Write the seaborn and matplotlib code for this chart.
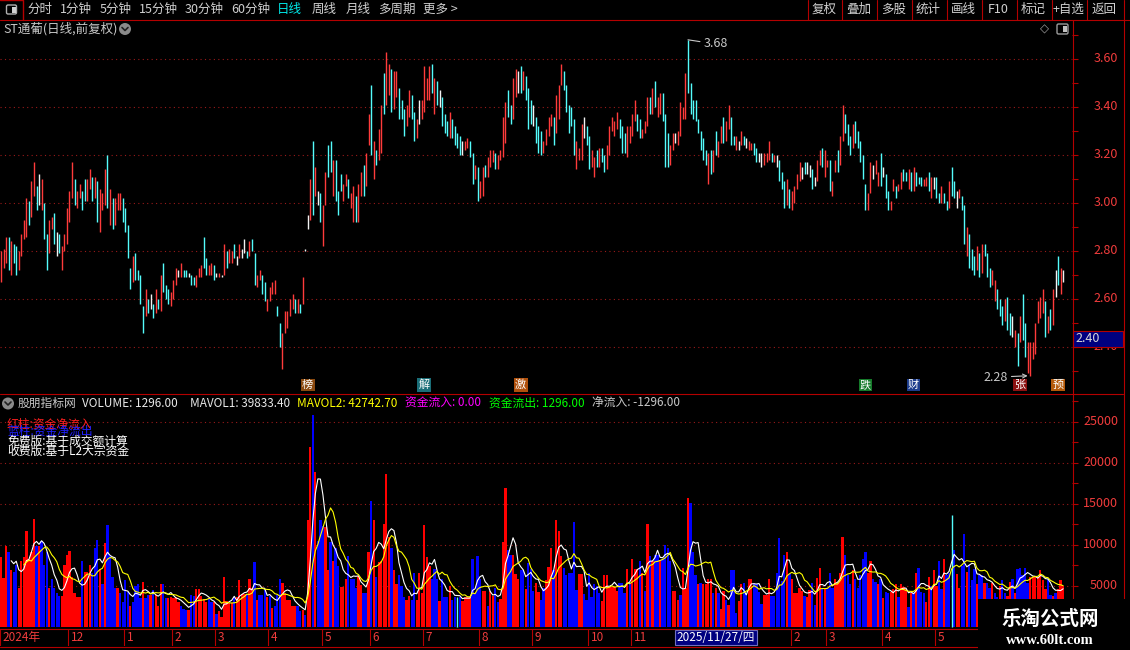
import numpy as np
import pandas as pd
import matplotlib
matplotlib.use('Agg')
import matplotlib.pyplot as plt
import matplotlib.ticker as mticker
import matplotlib.transforms as mtransforms
from matplotlib.patches import Rectangle, Circle, FancyBboxPatch
from matplotlib.lines import Line2D
import seaborn as sns

# daily high / low, 前复权, in fen
hi = [280, 281, 286, 286, 284, 283, 282, 280, 287, 293,
      302, 301, 309, 317, 307, 312, 310, 300, 287, 293,
      294, 296, 288, 287, 282, 287, 298, 305, 317, 310,
      305, 308, 305, 310, 310, 314, 311, 311, 309, 306,
      304, 314, 320, 306, 302, 302, 304, 304, 302, 298,
      291, 273, 278, 279, 272, 270, 257, 264, 260, 262,
      258, 264, 260, 270, 275, 266, 264, 263, 268, 273,
      272, 275, 272, 272, 271, 270, 269, 270, 273, 274,
      286, 277, 274, 275, 274, 271, 271, 270, 283, 280,
      281, 280, 283, 278, 283, 281, 285, 280, 284, 285,
      279, 270, 272, 270, 267, 260, 265, 267, 268, 257,
      250, 246, 255, 255, 260, 262, 260, 260, 258, 269,
      281, 295, 310, 326, 315, 305, 304, 299, 313, 324,
      326, 318, 318, 305, 312, 308, 312, 310, 304, 307,
      303, 308, 313, 316, 321, 337, 349, 326, 322, 331,
      341, 354, 363, 358, 356, 355, 355, 348, 343, 339,
      341, 347, 345, 338, 335, 343, 343, 357, 352, 357,
      358, 352, 351, 347, 344, 337, 334, 338, 335, 332,
      329, 328, 326, 326, 327, 326, 321, 316, 315, 309,
      315, 316, 319, 322, 322, 321, 320, 322, 336, 342,
      347, 341, 352, 356, 355, 357, 355, 353, 348, 343,
      341, 336, 332, 330, 326, 331, 336, 337, 336, 345,
      349, 358, 355, 349, 341, 340, 335, 326, 323, 333,
      336, 332, 328, 322, 319, 322, 323, 323, 320, 324,
      332, 336, 334, 338, 335, 332, 329, 332, 332, 337,
      343, 337, 335, 331, 334, 344, 344, 348, 351, 344,
      346, 346, 337, 329, 324, 329, 329, 330, 342, 340,
      354, 368, 350, 343, 343, 335, 330, 327, 322, 321,
      322, 322, 330, 326, 332, 336, 334, 341, 336, 328,
      328, 326, 330, 328, 327, 326, 325, 325, 323, 321,
      321, 321, 321, 326, 321, 320, 320, 318, 313, 309,
      310, 306, 305, 307, 312, 317, 315, 317, 317, 316,
      314, 311, 318, 322, 323, 322, 318, 318, 309, 318,
      322, 328, 341, 337, 333, 328, 333, 334, 330, 326,
      320, 308, 304, 317, 316, 318, 313, 321, 315, 312,
      305, 301, 310, 307, 308, 313, 314, 313, 314, 313,
      315, 313, 311, 311, 310, 311, 313, 311, 311, 311,
      304, 307, 304, 301, 309, 315, 309, 305, 306, 303,
      299, 290, 287, 281, 278, 282, 279, 283, 283, 279,
      273, 272, 268, 264, 260, 257, 260, 261, 254, 253,
      247, 246, 253, 262, 250, 242, 242, 242, 250, 259,
      261, 264, 259, 253, 256, 264, 272, 278, 273, 272]

lo = [267, 273, 275, 272, 270, 275, 270, 272, 278, 285,
      286, 291, 294, 303, 297, 299, 297, 285, 272, 279,
      289, 283, 278, 279, 272, 280, 283, 292, 302, 299,
      298, 302, 297, 301, 301, 306, 301, 302, 292, 288,
      297, 299, 298, 291, 289, 291, 297, 297, 292, 288,
      277, 264, 267, 268, 268, 258, 246, 253, 254, 256,
      252, 254, 256, 255, 263, 260, 258, 257, 260, 266,
      269, 269, 269, 269, 269, 266, 266, 265, 269, 269,
      273, 270, 270, 270, 268, 269, 269, 269, 270, 273,
      275, 275, 277, 274, 277, 277, 279, 277, 278, 280,
      266, 265, 268, 262, 259, 255, 259, 262, 262, 253,
      240, 231, 246, 248, 253, 256, 254, 254, 254, 258,
      280, 289, 293, 295, 303, 299, 292, 282, 299, 311,
      313, 303, 301, 295, 305, 301, 307, 302, 298, 292,
      292, 292, 303, 303, 307, 324, 320, 310, 316, 318,
      321, 337, 341, 345, 338, 339, 344, 335, 335, 328,
      332, 336, 335, 326, 327, 333, 335, 338, 343, 343,
      346, 337, 341, 340, 332, 329, 328, 327, 327, 324,
      323, 320, 320, 322, 323, 319, 308, 310, 301, 302,
      303, 311, 311, 315, 317, 314, 314, 318, 319, 325,
      336, 333, 335, 344, 346, 346, 347, 343, 331, 333,
      332, 325, 321, 320, 321, 324, 328, 332, 324, 329,
      335, 349, 347, 338, 329, 332, 320, 314, 318, 318,
      327, 324, 314, 315, 311, 315, 315, 317, 313, 314,
      320, 330, 328, 331, 327, 321, 321, 319, 325, 328,
      334, 330, 327, 327, 329, 332, 337, 337, 340, 336,
      337, 334, 315, 315, 316, 322, 325, 324, 328, 335,
      335, 346, 337, 335, 334, 329, 322, 318, 316, 308,
      312, 313, 320, 319, 325, 325, 326, 331, 324, 324,
      322, 322, 324, 324, 323, 322, 322, 320, 317, 317,
      315, 316, 317, 318, 317, 317, 315, 309, 306, 298,
      299, 298, 297, 300, 306, 309, 310, 312, 312, 311,
      306, 307, 309, 316, 315, 311, 315, 305, 303, 313,
      313, 316, 326, 329, 324, 320, 323, 325, 323, 317,
      310, 297, 297, 304, 310, 312, 307, 307, 311, 302,
      297, 297, 305, 302, 305, 306, 309, 309, 306, 305,
      305, 307, 308, 307, 307, 307, 305, 302, 306, 302,
      300, 300, 300, 297, 298, 303, 302, 298, 302, 297,
      283, 278, 273, 272, 270, 272, 269, 271, 278, 269,
      265, 266, 259, 256, 253, 249, 251, 247, 245, 244,
      240, 232, 242, 243, 236, 229, 228, 235, 237, 250,
      252, 254, 244, 246, 247, 249, 261, 266, 262, 267]

# u: close above open, d: below, f: flat
day_dir = ("uuududduuu" "uduudfuddu" "udfduuuuud" "uudduududu" "uududuuudd"
           "dduddddudf" "dududdduuu" "fuddfdduuu" "dduudfufud" "uudfuffdud"
           "duudduuuud" "duuuuududu" "ffudufduud" "duddduuduu" "duuduududu"
           "uduuduuddd" "uuddufuuuu" "dudfdddudd" "ddfuuddudu" "uduuuduuuu"
           "dduufduddd" "fddduuuudu" "uuddddduuu" "fdduududdu" "uuuuddduuu"
           "udduuududu" "uddduufuuu" "uddddddddu" "duduuduudd" "ufudfuuddf"
           "fuuudufddd" "uduuuufdff" "dfuuduuduu" "duuddduddd" "dduufuudfd"
           "duuduuddud" "uddduudufd" "dudduddfud" "dudddududd" "duuddduddf"
           "ududduuuuu" "uududufduf")

# daily volume (lots)
vol = [8500, 6000, 9900, 9100, 6900, 6700, 7500, 4700, 8000, 8500,
       11700, 8300, 9100, 13200, 9900, 9900, 10500, 7500, 9100, 4800,
       5800, 4700, 4200, 3800, 3800, 7500, 8800, 9300, 6100, 4200,
       3600, 3600, 8000, 6700, 6700, 7500, 6600, 9600, 10600, 7100,
       5200, 10300, 12400, 8700, 6100, 4700, 4700, 4200, 3000, 5700,
       4300, 2600, 3000, 5000, 5300, 3500, 5500, 3500, 3900, 3900,
       4500, 3900, 2600, 5200, 5200, 3500, 3500, 3600, 3500, 3600,
       3000, 2600, 2200, 2100, 2100, 3900, 3800, 4600, 4600, 3800,
       3400, 3000, 3400, 3000, 3000, 1600, 2000, 1200, 6100, 3200,
       2900, 2900, 3600, 3600, 5700, 4000, 4000, 4000, 5800, 4800,
       7900, 3300, 3900, 3900, 4600, 3600, 3800, 2300, 2600, 3900,
       5800, 5400, 4200, 3300, 3300, 2600, 2500, 2500, 1900, 2100,
       1500, 13100, 22000, 25800, 18900, 10500, 13000, 12300, 12200, 7000,
       10400, 8100, 9600, 7400, 4900, 4900, 5900, 8700, 5800, 5800,
       4700, 6200, 5100, 4200, 4200, 9100, 15400, 13100, 6100, 7900,
       8000, 12600, 18700, 11000, 9600, 6900, 5200, 6400, 5000, 3600,
       3300, 3800, 3300, 6600, 3300, 6600, 4200, 12400, 8500, 7400,
       5800, 7100, 5800, 3200, 5900, 3700, 3700, 5000, 3300, 3600,
       3600, 3600, 3200, 3600, 3600, 3600, 8300, 4200, 8700, 5900,
       4400, 4400, 2500, 4400, 3800, 4800, 3100, 3400, 10400, 17000,
       9400, 8800, 8800, 6500, 5800, 6900, 6900, 4600, 7800, 7100,
       4400, 5400, 4300, 3300, 4700, 5700, 7300, 9600, 7000, 13000,
       11700, 8700, 7200, 6300, 6600, 6600, 12800, 4500, 6500, 6500,
       4000, 3300, 6600, 3700, 5200, 5000, 4100, 3200, 6300, 6300,
       4900, 4900, 4900, 4400, 5400, 5400, 4100, 7100, 5400, 8300,
       7100, 7100, 8000, 6600, 4400, 12500, 8600, 8100, 8800, 8800,
       8200, 8300, 10000, 9600, 8100, 4400, 4400, 3300, 3900, 7200,
       4800, 15700, 15100, 9200, 6300, 5200, 5400, 5200, 5200, 5900,
       5900, 4100, 4700, 4200, 2200, 4400, 3300, 2700, 6900, 6900,
       1700, 3200, 5300, 5400, 4000, 5800, 5800, 5400, 5200, 4300,
       2800, 3900, 3900, 5900, 3800, 3800, 6600, 10800, 5600, 8800,
       9100, 6500, 5800, 4200, 4200, 4700, 4400, 3800, 3600, 4500,
       5400, 2700, 6000, 7200, 4600, 4600, 4700, 6600, 4700, 5900,
       5400, 6600, 11000, 8800, 6300, 5300, 6900, 5900, 4700, 6300,
       8300, 9200, 6600, 8000, 5800, 5500, 5200, 5800, 3500, 4300,
       4200, 4300, 4600, 5200, 3700, 5300, 4900, 4600, 2400, 4200,
       4200, 6600, 7200, 4300, 4200, 3100, 6100, 5000, 6900, 5000,
       8100, 4600, 8300, 6300, 6600, 13700, 9400, 6500, 4700, 7400,
       11400, 6700, 7600, 5700, 7100, 5300, 6400, 6300, 5400, 5400,
       4800, 5400, 4200, 3700, 5000, 5700, 4200, 3800, 5500, 5800,
       4200, 7100, 7200, 6300, 7200, 5400, 6100, 6100, 6100, 6100,
       7000, 5700, 4600, 5900, 3900, 3800, 4200, 4600, 5700, 5000]

# R: 红柱 net inflow, B: 蓝柱 net outflow, T: no net flow
flow = ("RRRBRBBRRR" "RRRRBRBBBR" "BBBBRRRRRR" "RRBRRRBBBR" "BRBBBBRBBB"
        "BRBBBBRBBR" "BRRRBBRRRR" "RBBBRBBRRR" "RRBBRBRRRR" "RRBRRRRBRR"
        "BRBBBRBRBB" "BRRRRRRBBR" "BRRBRBBBRR" "BRBBRRRBBB" "BRRBBRBRBR"
        "RRRRBRRBBB" "RRBBRRRRRR" "BBBRBBBRBB" "TBRRRRBBBB" "RRBRRBBRRR"
        "BBRRRBBRBB" "BRRBBRRRBR" "RRBBBBBBRR" "BBBBBBBRRR" "RRRRBBBRBR"
        "RRBRBRBRBB" "RBBBBRRRBR" "RRBBBRBRRR" "RBRBRRBRBB" "BRRBBRRBBB"
        "BRRRBBBBBB" "RBRRRRRBRR" "BBRRBRBBBR" "RRRBBBRBBB" "BBRRBBRBRB"
        "BRRRBRRRBR" "BRBBBRRBRR" "BBRBBTBRRB" "BRBBBRBBRB" "BRBBRBBRRB"
        "RBBBBBRRRR" "RRRBBRBRRR")

month_lbl = ['2024年', '12', '1', '2', '3', '4', '5', '6', '7', '8', '9', '10', '11',
             '2', '3', '4', '5']
month_day = [0, 27, 49, 68, 85, 106, 127, 146, 167, 189, 210, 232, 249, 312, 326, 348, 369]

event_tag = ['榜', '解', '激', '跌', '财', '张', '预']
event_day = [121, 167, 205, 341, 360, 402, 417]

cursor_day = 282
cursor_lbl = '2025/11/27/四'
cursor_price = 2.40

price_ticks = [2.40, 2.60, 2.80, 3.00, 3.20, 3.40, 3.60]
vol_ticks = [5000, 10000, 15000, 20000, 25000]

tools_left = ['分时', '1分钟', '5分钟', '15分钟', '30分钟', '60分钟', '日线', '周线', '月线', '多周期', '更多 >']
tools_left_x = [27, 60, 100, 139, 185, 231, 277, 312, 346, 378, 423]
tools_right = ['复权', '叠加', '多股', '统计', '画线', 'F10', '标记', '+自选', '返回']

header = [('股朋指标网', '#c8c8c8', 18), ('VOLUME: 1296.00', '#e8e8e8', 82),
          ('MAVOL1: 39833.40', '#e8e8e8', 190), ('MAVOL2: 42742.70', '#ffff00', 297),
          ('资金流入: 0.00', '#ff00ff', 405), ('资金流出: 1296.00', '#00ff00', 489),
          ('净流入: -1296.00', '#c8c8c8', 592)]

# ---------------------------------------------------------------
sns.set_theme(style='dark', rc={'axes.facecolor': 'black', 'figure.facecolor': 'black',
                                'savefig.facecolor': 'black'})
plt.rcParams['font.family'] = ['Noto Sans CJK SC', 'DejaVu Sans']

RED = '#b40000'
TXT_RED = '#f03c3c'
GRID = '#9a1a1a'
W, H = 1130, 650
ident = mtransforms.IdentityTransform()

n = min(len(hi), len(lo), len(day_dir), len(vol), len(flow))
hi_p = np.array(hi[:n]) / 100
lo_p = np.array(lo[:n]) / 100
vol = np.array(vol[:n], dtype=float)
days = np.arange(n)

fig = plt.figure(figsize=(W / 100, H / 100), dpi=100)


def dy(py):
    return H - py


def ftext(px, py, s, **kw):
    kw.setdefault('va', 'center')
    kw.setdefault('fontsize', 9)
    return fig.text(px / W, 1 - py / H, s, **kw)


def fline(xs, ys, c=RED, lw=0.8, **kw):
    fig.add_artist(Line2D(xs, [dy(v) for v in ys], transform=ident, color=c, lw=lw, **kw))


ax_p = fig.add_axes([0, 1 - 393 / H, 1072 / W, (393 - 20) / H])
ax_v = fig.add_axes([0, 1 - 628 / H, 1072 / W, (628 - 396) / H])
ax_d = fig.add_axes([0, 1 - 646 / H, 1072 / W, (646 - 629) / H])

for ax in (ax_p, ax_v, ax_d):
    ax.set_facecolor('black')
    ax.set_xlim(-0.4, 422.5)
    for s in ax.spines.values():
        s.set_visible(False)
    ax.set_xticks([])
    ax.set_xlabel('')
    ax.set_ylabel('')

# ---- price panel ----
ax_p.set_ylim(2.2083, 3.7625)
dcol = {'u': '#ff3b3b', 'd': '#54fcfc', 'f': '#f2f2f2'}
ax_p.vlines(days, lo_p, hi_p, colors=[dcol[c] for c in day_dir[:n]], lw=1.0)
for v in price_ticks:
    ax_p.axhline(v, color=GRID, lw=0.8, ls=(0, (1, 3)), zorder=0)

ax_p.yaxis.set_ticks_position('right')
ax_p.yaxis.set_major_locator(mticker.FixedLocator(price_ticks))
ax_p.yaxis.set_minor_locator(mticker.MultipleLocator(0.1))
ax_p.tick_params(axis='y', which='both', direction='out', length=4, width=0.8, color=RED,
                 labelright=False, labelleft=False)
lbl_tr = mtransforms.blended_transform_factory(fig.transFigure, ax_p.transData)
for v in price_ticks:
    ax_p.text(1118 / W, v, f'{v:.2f}', transform=lbl_tr, ha='right', va='center',
              color=TXT_RED, fontsize=9, clip_on=False)

i_max = int(np.argmax(hi_p))
ax_p.annotate(f'{hi_p[i_max]:.2f}', xy=(i_max, hi_p[i_max]), xytext=(11, -3),
              textcoords='offset points', ha='left', va='center', color='#c8c8c8', fontsize=9,
              arrowprops=dict(arrowstyle='-', color='#c8c8c8', lw=0.8, shrinkA=0, shrinkB=0))
i_min = int(np.argmin(lo_p))
ax_p.annotate(f'{lo_p[i_min]:.2f}', xy=(i_min - 1, lo_p[i_min]), xytext=(-14, -1),
              textcoords='offset points', ha='right', va='center', color='#c8c8c8', fontsize=9,
              arrowprops=dict(arrowstyle='->', color='#c8c8c8', lw=0.8, shrinkA=0, shrinkB=0,
                              mutation_scale=7))

tag_col = {'榜': '#8a4a10', '解': '#1a6e78', '激': '#b0500c', '跌': '#157a2a',
           '财': '#1c3c8c', '张': '#8c1212', '预': '#b45a0a'}
ev_tr = mtransforms.blended_transform_factory(ax_p.transData, ax_p.transAxes)
for d, t in zip(event_day, event_tag):
    ax_p.text(d, 0.0215, t, transform=ev_tr, ha='center', va='center', color='white',
              fontsize=8, bbox=dict(boxstyle='square,pad=0.12', fc=tag_col[t], ec='none'))

# ---- volume panel ----
ax_v.set_ylim(-122, 28170)
fl = np.array(list(flow[:n]))
ax_v.bar(days[fl == 'R'], vol[fl == 'R'], width=0.9, color='#ff0000', lw=0)
ax_v.bar(days[fl == 'B'], vol[fl == 'B'], width=0.9, color='#0000ff', lw=0)
ax_v.vlines(days[fl == 'T'], 0, vol[fl == 'T'], colors='#54fcfc', lw=1.0)
ma = pd.DataFrame({'day': days, 'ma5': pd.Series(vol).rolling(5).mean(),
                   'ma10': pd.Series(vol).rolling(10).mean()})
sns.lineplot(data=ma, x='day', y='ma5', ax=ax_v, color='white', lw=0.8, estimator=None)
sns.lineplot(data=ma, x='day', y='ma10', ax=ax_v, color='#ffff00', lw=0.8, estimator=None)
ax_v.set_xlim(-0.4, 422.5)
ax_v.set_ylim(-122, 28170)
ax_v.set_xlabel('')
ax_v.set_ylabel('')
ax_v.set_xticks([])
for v in vol_ticks:
    ax_v.axhline(v, color=GRID, lw=0.8, ls=(0, (1, 3)), zorder=0)
ax_v.yaxis.set_ticks_position('right')
ax_v.yaxis.set_major_locator(mticker.FixedLocator(vol_ticks))
ax_v.yaxis.set_minor_locator(mticker.MultipleLocator(2500))
ax_v.tick_params(axis='y', which='both', direction='out', length=4, width=0.8, color=RED,
                 labelright=False, labelleft=False)
vl_tr = mtransforms.blended_transform_factory(fig.transFigure, ax_v.transData)
for v in vol_ticks:
    ax_v.text(1118 / W, v, f'{v}', transform=vl_tr, ha='right', va='center',
              color=TXT_RED, fontsize=9, clip_on=False)

# ---- date strip ----
ax_d.set_ylim(0, 1)
ax_d.set_yticks([])
for d, t in zip(month_day, month_lbl):
    ax_d.axvline(d - 0.5, color=RED, lw=0.8)
    ax_d.annotate(t, xy=(d - 0.5, 0.5), xytext=(2, 0), textcoords='offset points',
                  ha='left', va='center', color=TXT_RED, fontsize=8.5)
ax_d.text(cursor_day, 0.5, cursor_lbl, ha='center', va='center', color='white', fontsize=8.5,
          bbox=dict(boxstyle='square,pad=0.12', fc='#000080', ec='#7070c0', lw=0.8))

# ---- frame lines ----
fline([0, W], [19.5, 19.5])
fline([0, 1123], [393.5, 393.5])
fline([0, 1123], [629, 629])
fline([0, 1123], [646.5, 646.5])
fline([1072.5, 1072.5], [19.5, 650])
fline([1123.5, 1123.5], [19.5, 650])

# cursor price box on the right axis
yb = ax_p.transData.transform((0, cursor_price))[1]
fig.add_artist(Rectangle((1073, yb), 50, 15.5, transform=ident, fc='#000080', ec=RED, lw=0.8))
fig.text(1075 / W, (yb + 8) / H, f'{cursor_price:.2f}', color='#d8d8d8', fontsize=9, va='center')

# ---- toolbar ----
fline([0, 22.5, 22.5], [0, 0, 19.5], lw=1)
fig.add_artist(FancyBboxPatch((6.5, dy(14)), 10, 9, boxstyle='round,pad=0,rounding_size=1.5',
                              transform=ident, fc='none', ec='#b0b0b0', lw=1))
fig.add_artist(Rectangle((12, dy(12.5)), 3.5, 6, transform=ident, fc='#d0d0d0', ec='none'))
for t, x in zip(tools_left, tools_left_x):
    ftext(x, 9.5, t, color='#00e8e8' if t == '日线' else '#d0d0d0')
seps = [807, 841, 876, 911, 946, 981, 1016, 1051, 1086, 1123]
for i, t in enumerate(tools_right):
    ftext((seps[i] + seps[i + 1]) / 2, 9.5, t, color='#d0d0d0', ha='center')
for s in seps:
    fline([s + 0.5, s + 0.5], [0, 19.5])

# ---- panel titles ----
ftext(3, 29, 'ST通葡(日线,前复权)', color='#c8c8c8')


def chevron(cx, cy):
    fig.add_artist(Circle((cx, dy(cy)), 6, transform=ident, fc='#8a8a8a', ec='none'))
    fline([cx - 3, cx, cx + 3], [cy - 1.5, cy + 1.5, cy - 1.5], c='#202020', lw=1.2)


chevron(125, 29)
chevron(8, 403.5)
ftext(1044, 29, '◇', color='#a0a0a0', ha='center', fontsize=8.5, family=['DejaVu Sans'])
fig.add_artist(FancyBboxPatch((1057, dy(34)), 11, 10, boxstyle='round,pad=0,rounding_size=1.5',
                              transform=ident, fc='none', ec='#9a9a9a', lw=1))
fig.add_artist(Rectangle((1063, dy(32)), 3.5, 6, transform=ident, fc='#c0c0c0', ec='none'))

for t, c, x in header:
    ftext(x, 403.5, t, color=c, fontsize=8.5)

ftext(7, 424, '红柱:资金净流入', color='#ff2020', fontsize=8.5)
ftext(7, 431, '蓝柱:资金净流出', color='#2020ff', fontsize=8.5)
ftext(7, 441, '免费版:基于成交额计算', color='white', fontsize=8.5)
ftext(7, 451, '收费版:基于L2大宗资金', color='white', fontsize=8.5)

# ---- watermark ----
fig.add_artist(Rectangle((978, 0), 152, dy(599), transform=ident, fc='black', ec='none', zorder=5))
ftext(1050, 619, '乐淘公式网', color='white', ha='center', fontsize=14, fontweight='bold', zorder=6)
ftext(1050, 640, 'www.60lt.com', color='white', ha='center', fontsize=10.5, fontweight='bold',
      family=['Liberation Serif', 'DejaVu Serif'], zorder=6)

fig.savefig('out.png', dpi=100, facecolor='black')
